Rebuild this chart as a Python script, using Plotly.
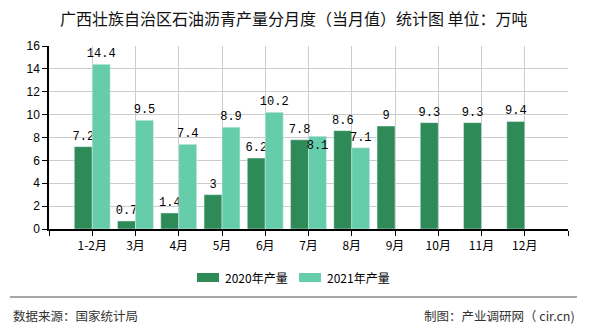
import plotly.graph_objects as go

# Monthly output of petroleum asphalt, Guangxi (10k tonnes)
months = ["1-2月", "3月", "4月", "5月", "6月", "7月", "8月", "9月", "10月", "11月", "12月"]
output_2020 = [7.2, 0.7, 1.4, 3, 6.2, 7.8, 8.6, 9, 9.3, 9.3, 9.4]
output_2021 = [14.4, 9.5, 7.4, 8.9, 10.2, 8.1, 7.1, None, None, None, None]

COLOR_2020 = "#2E8B57"
COLOR_2021 = "#66CDAA"

W, H = 590, 330
ML, MR, MT, MB = 49, 22, 46, 101
PW, PH = W - ML - MR, H - MT - MB


def px(x):
    return (x - ML) / PW


def py(y):
    return (H - MB - y) / PH


xs = list(range(len(months)))
label_font = dict(family="Liberation Mono, monospace", size=12, color="#000")


def fmt(v):
    return "" if v is None else f"{v:g}"


pos_2021 = ["inside" if m == "7月" else "outside" for m in months]

fig = go.Figure()
fig.add_trace(go.Bar(
    x=xs, y=output_2020, name="2020年产量", marker_color=COLOR_2020,
    text=[fmt(v) for v in output_2020], textposition="outside",
    textfont=label_font, textangle=0, cliponaxis=False, constraintext="none",
))
fig.add_trace(go.Bar(
    x=xs, y=output_2021, name="2021年产量", marker_color=COLOR_2021,
    text=[fmt(v) for v in output_2021], textposition=pos_2021,
    insidetextanchor="end", insidetextfont=label_font, outsidetextfont=label_font,
    textangle=0, cliponaxis=False, constraintext="none",
))

tickvals = [-1] + xs + [len(months)]
ticktext = [""] + months + [""]

fig.update_layout(
    width=W, height=H,
    margin=dict(l=ML, r=MR, t=MT, b=MB),
    paper_bgcolor="white", plot_bgcolor="white",
    barmode="group", bargap=0.17, bargroupgap=0,
    showlegend=False,
    font=dict(family="Liberation Sans, Noto Sans CJK SC, sans-serif", size=12, color="#000"),
    xaxis=dict(
        range=[-1, len(months)], tickmode="array", tickvals=tickvals, ticktext=ticktext,
        showgrid=True, gridcolor="#cccccc", gridwidth=1,
        showline=True, linecolor="#000", linewidth=1.5,
        ticks="outside", ticklen=5, tickcolor="#000",
        tickfont=dict(family="Noto Sans CJK SC, sans-serif", size=12, color="#000"),
        zeroline=False, fixedrange=True,
    ),
    yaxis=dict(
        range=[0, 16], dtick=2, showgrid=True, gridcolor="#cccccc", gridwidth=1,
        showline=True, linecolor="#000", linewidth=1.5,
        ticks="outside", ticklen=5, tickcolor="#000",
        tickfont=dict(family="Liberation Sans, sans-serif", size=12, color="#000"),
        zeroline=False, fixedrange=True,
    ),
)

shapes = []
annotations = []

# Title
annotations.append(dict(
    text="广西壮族自治区石油沥青产量分月度（当月值）统计图 单位：万吨",
    xref="paper", yref="paper", x=px(294), y=py(18), xanchor="center", yanchor="middle",
    showarrow=False, font=dict(family="Noto Sans CJK SC", size=16, color="#111"),
))

# Legend
legend_items = [("2020年产量", COLOR_2020, 197), ("2021年产量", COLOR_2021, 299)]
for name, color, x0 in legend_items:
    shapes.append(dict(type="rect", xref="paper", yref="paper",
                       x0=px(x0), x1=px(x0 + 22), y0=py(282), y1=py(273),
                       fillcolor=color, line=dict(width=0)))
    annotations.append(dict(
        text=name, xref="paper", yref="paper", x=px(x0 + 26), y=py(277.5),
        xanchor="left", yanchor="middle", showarrow=False,
        font=dict(family="Noto Sans CJK SC", size=12, color="#000"),
    ))

# Footer
shapes.append(dict(type="line", xref="paper", yref="paper",
                   x0=px(10), x1=px(577), y0=py(297), y1=py(297),
                   line=dict(color="#888888", width=1.5)))
annotations.append(dict(
    text="数据来源：国家统计局", xref="paper", yref="paper", x=px(11), y=py(315),
    xanchor="left", yanchor="middle", showarrow=False,
    font=dict(family="Noto Sans CJK SC", size=12.5, color="#333"),
))
annotations.append(dict(
    text="制图：产业调研网（ cir.cn)", xref="paper", yref="paper", x=px(577), y=py(315),
    xanchor="right", yanchor="middle", showarrow=False,
    font=dict(family="Noto Sans CJK SC", size=12.5, color="#333"),
))

fig.update_layout(shapes=shapes, annotations=annotations)
fig.write_html("out.html")
